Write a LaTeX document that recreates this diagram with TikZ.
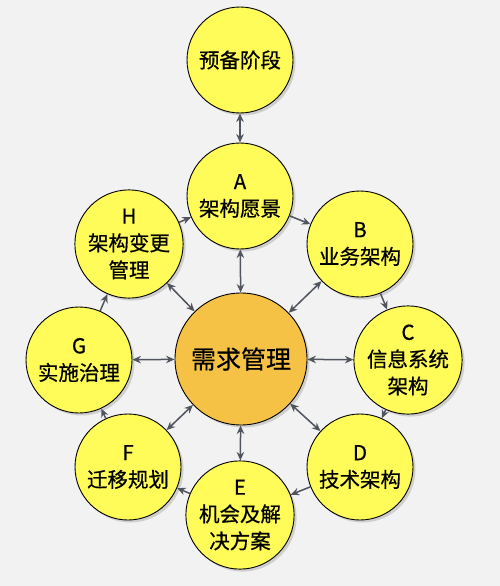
\documentclass[tikz,border=0pt]{standalone}
\usepackage{fontspec}
\setmainfont{Noto Sans CJK SC}[FakeBold=0.6]
\usetikzlibrary{positioning,arrows.meta,shadows}
\definecolor{bgcolor}{RGB}{242,242,242}
\definecolor{phaseyellow}{RGB}{255,252,90}
\definecolor{reqorange}{RGB}{245,194,70}
\definecolor{linkgray}{RGB}{80,84,92}
\begin{document}
\begin{tikzpicture}[x=1pt, y=-1pt,
			% 黄色的圆形阶段
			phasenode/.style={circle, draw=black, line width=0.9pt, fill=phaseyellow, minimum size=106pt, inner sep=0pt, align=center,
				font=\fontsize{20.5}{27}\selectfont, drop shadow={opacity=0.3, shadow xshift=2.5pt, shadow yshift=-2.5pt}},
			% 中间的需求管理,大一点,橙色
			reqnode/.style={phasenode, fill=reqorange, minimum size=132pt, font=\fontsize{25}{30}\selectfont},
			% 灰色的连线
			link/.style={draw=linkgray, line width=1.5pt},
			>={Stealth[length=8.5pt, width=7.5pt]}
		]
		% 背景
		\fill[bgcolor] (0,0) rectangle (500,586);
		\useasboundingbox (0,0) rectangle (500,586);

		%Nodes
		\node[phasenode]      (prep)          at (240,60)           {预备阶段};
		\node[reqnode]        (req)           at (241,359)          {需求管理};
		\node[phasenode]      (phaseA)        at (240,196)          {A\\架构愿景};
		\node[phasenode]      (phaseB)        at (360,244)          {B\\业务架构};
		\node[phasenode]      (phaseC)        at (408,360)          {C\\信息系统\\架构};
		\node[phasenode]      (phaseD)        at (360,467)          {D\\技术架构};
		\node[phasenode]      (phaseE)        at (240,515)          {E\\机会及解\\决方案};
		\node[phasenode]      (phaseF)        at (128,467)          {F\\迁移规划};
		\node[phasenode]      (phaseG)        at (79,360)           {G\\实施治理};
		\node[phasenode]      (phaseH)        at (129,244)          {H\\架构变更\\管理};

		%Lines
		\draw[link, <->] (prep)          --            (phaseA);
		\draw[link, <->] (phaseA)        --            (req);
		\draw[link, <->] (req)           --            (phaseB);
		\draw[link, <->] (req)           --            (phaseC);
		\draw[link, <->] (req)           --            (phaseD);
		\draw[link, <->] (req)           --            (phaseE);
		\draw[link, <->] (req)           --            (phaseF);
		\draw[link, <->] (req)           --            (phaseG);
		\draw[link, <->] (req)           --            (phaseH);
		% 外圈按顺序的单向箭头
		\draw[link, ->]  (phaseA)        --            (phaseB);
		\draw[link, ->]  (phaseB)        --            (phaseC);
		\draw[link, ->]  (phaseC)        --            (phaseD);
		\draw[link, ->]  (phaseD)        --            (phaseE);
		\draw[link, ->]  (phaseE)        --            (phaseF);
		\draw[link, ->]  (phaseF)        --            (phaseG);
		\draw[link, ->]  (phaseG)        --            (phaseH);
		\draw[link, ->]  (phaseH)        --            (phaseA);
	\end{tikzpicture}
\end{document}
